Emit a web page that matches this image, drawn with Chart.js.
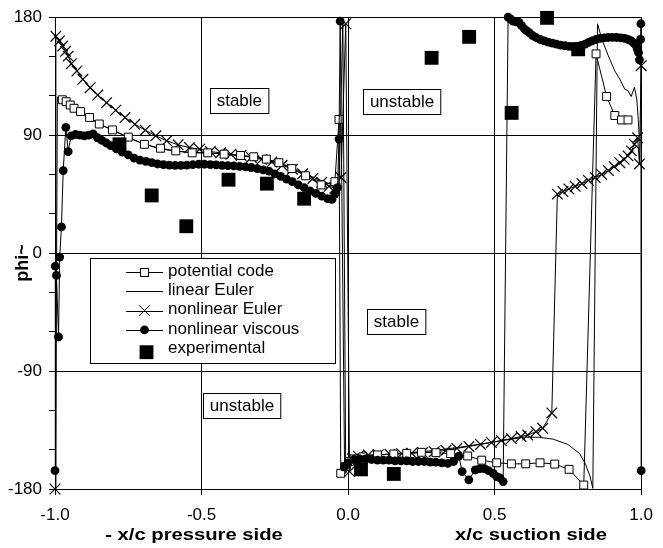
<!DOCTYPE html>
<html><head><meta charset="utf-8">
<script src="https://cdn.jsdelivr.net/npm/chart.js@4.4.1/dist/chart.umd.min.js"></script>
<style>html,body{margin:0;padding:0;background:#fff;}canvas{display:block;}</style>
</head><body>
<canvas id="c" width="663" height="548"></canvas>
<script>
// ---------- data ----------
const xTickValues = [-1.0, -0.5, 0.0, 0.5, 1.0];
const yTickValues = [-180,-150,-120,-90,-60,-30,0,30,60,90,120,150,180];
const yLabelValues = [-180, -90, 0, 90, 180];
const seriesNames = ['potential code','linear Euler','nonlinear Euler','nonlinear viscous','experimental'];

const potentialX = [-0.975,-0.962,-0.948,-0.935,-0.913,-0.882,-0.849,-0.804,-0.75,-0.695,-0.64,-0.588,-0.532,-0.479,-0.423,-0.367,-0.322,-0.279,-0.236,-0.192,-0.145,-0.092,-0.045,-0.031,-0.025,-0.01,0.005,0.02,0.05,0.1,0.156,0.2,0.25,0.3,0.35,0.408,0.456,0.507,0.557,0.606,0.655,0.705,0.754,0.804,0.846,0.882,0.91,0.933,0.955];
const potentialY = [117,115.5,113,110.5,108,103.5,98.5,94,88.5,83,80,78,76.5,76.5,75.5,74.5,73.5,71.7,69,64.5,59,52,54.5,102,-168,-163,-159,-157,-155.5,-154,-153.3,-152.8,-152,-152.3,-153,-154.8,-158,-160,-160.8,-160.8,-160,-161,-165,-177,152,119.5,105,101.6,101.6];

const linearX = [-0.998,-0.992,-0.975,-0.95,-0.92,-0.88,-0.85,-0.8,-0.75,-0.7,-0.65,-0.6,-0.55,-0.5,-0.45,-0.4,-0.35,-0.3,-0.25,-0.2,-0.15,-0.1,-0.06,-0.04,-0.03,-0.018,-0.008,0.005,0.03,0.1,0.2,0.3,0.4,0.5,0.6,0.65,0.7,0.75,0.79,0.81,0.825,0.835,0.851,0.866,0.888,0.91,0.927,0.944,0.955,0.966,0.977,0.985,0.99,0.993];
const linearY = [-175,119,116,112.5,107.5,103,98.5,93.5,88,83.5,80,78,77,76.5,76,75,74,72.5,70,66,61,56,52.5,51,57,178,-168,-158,-156,-154,-152.5,-150.5,-147.5,-144,-140.5,-140.5,-142,-146,-153,-161,-170,-179.5,175,163,150.5,139,132.8,125,124,119.5,126.5,117.5,102,90];

const eulerX = [-1.0,-0.997,-0.985,-0.974,-0.964,-0.955,-0.944,-0.925,-0.905,-0.88,-0.854,-0.824,-0.793,-0.761,-0.728,-0.692,-0.656,-0.619,-0.58,-0.541,-0.507,-0.47,-0.435,-0.4,-0.365,-0.33,-0.295,-0.26,-0.225,-0.19,-0.155,-0.12,-0.09,-0.065,-0.045,-0.024,-0.008,0.005,0.015,0.035,0.069,0.103,0.143,0.183,0.217,0.254,0.294,0.334,0.371,0.412,0.452,0.489,0.523,0.557,0.59,0.613,0.641,0.664,0.695,0.714,0.733,0.753,0.775,0.798,0.82,0.843,0.865,0.888,0.908,0.927,0.942,0.955,0.967,0.977,0.988,0.994,1.0];
const eulerY = [-180,165.5,162,158,154,150.3,144.5,139,132.6,126.2,120.6,114.8,109,103.4,98.3,93.8,89.5,85.7,82.6,80.5,79.3,77.5,76.5,75.5,74.5,73,71.5,69.5,67,64,60.5,57,54,51,49.5,57.7,175,-166.7,-157,-155,-154,-153.8,-153.5,-153,-152.7,-152.2,-151.5,-150.5,-149,-147.5,-146,-144.5,-143,-141.5,-140,-138.8,-136.3,-133.7,-122,45,47,49,51,53,55.5,57.7,60,63,66,69,71.5,74.2,78,83,88,68,143];

const viscousX = [-1.0,-0.999,-0.995,-0.988,-0.984,-0.978,-0.972,-0.963,-0.955,-0.945,-0.93,-0.915,-0.9,-0.885,-0.87,-0.855,-0.84,-0.825,-0.81,-0.79,-0.77,-0.75,-0.73,-0.71,-0.69,-0.67,-0.65,-0.63,-0.61,-0.59,-0.57,-0.55,-0.53,-0.51,-0.49,-0.47,-0.45,-0.43,-0.41,-0.39,-0.37,-0.35,-0.33,-0.31,-0.29,-0.27,-0.25,-0.23,-0.21,-0.19,-0.17,-0.15,-0.13,-0.11,-0.09,-0.07,-0.055,-0.045,-0.036,-0.031,-0.027,-0.012,0.0,0.02,0.04,0.06,0.08,0.1,0.12,0.14,0.16,0.18,0.2,0.22,0.24,0.26,0.28,0.3,0.32,0.34,0.36,0.378,0.389,0.412,0.434,0.45,0.465,0.479,0.495,0.507,0.518,0.529,0.546,0.555,0.563,0.573,0.583,0.592,0.602,0.61,0.619,0.63,0.641,0.655,0.669,0.683,0.697,0.711,0.725,0.74,0.754,0.768,0.782,0.795,0.809,0.82,0.832,0.846,0.86,0.874,0.888,0.902,0.916,0.93,0.944,0.955,0.966,0.975,0.983,0.987,0.991,0.994,0.998,0.999,1.0];
const viscousY = [-166,-10,-17,-64,-3,20,63,96,77.5,89.5,90.5,90,89.5,90,91,88,86,84,82,79.5,77,75,72.5,71,70,69,68,67.5,67.2,67,67,67.2,67.5,67.8,67.8,67.5,67.3,67,66.8,66.5,66.2,65.8,65.3,64.5,63.5,62.5,60.5,58.5,56.5,54.5,52,50,47.5,45.5,43.5,41.5,41,45,50,87,177,-163,-160,-157.5,-157,-157,-157.5,-158,-158,-158,-158.5,-158.5,-158.5,-159,-159,-159,-159.5,-159.5,-160,-160.5,-159,-155,-166.7,-173,-165.4,-164.5,-164.5,-166,-168,-170.5,-171.5,-174.3,180,178.5,177,176.5,176,173.5,171,169.5,168,166,164.5,163,162,161,160.2,159.4,158.7,158.2,157.7,157.6,157.7,158.5,159.4,160.7,162,163,163.8,164.2,164.5,164.6,164.5,164.2,163.8,163,162,160.3,158.2,155.6,153,147.5,163,175,-166];

const expX = [-0.78,-0.67,-0.552,-0.408,-0.277,-0.15,0.044,0.156,0.285,0.413,0.558,0.679,0.785];
const expY = [83,44,20.5,56,53,41.5,-165,-168.5,149,165,107,179.5,155.5];

const regionTexts = ['stable','unstable','stable','unstable'];
const regionX = [-0.371, 0.184, 0.165, -0.362];
const regionY = [116.8, 115.5, -52.4, -116.1];

const xTitleLeft = '- x/c pressure side';
const xTitleRight = 'x/c suction side';
const yTitle = 'phi~';

// ---------- chart ----------
const pts = (xs, ys) => xs.map((x, i) => ({x: x, y: ys[i]}));
const FONT = '"Liberation Sans", Arial, sans-serif';

const textPlugin = {
  id: 'texts',
  beforeDraw(chart) {
    const c = chart.ctx; c.save(); c.fillStyle = '#fff'; c.fillRect(0, 0, chart.width, chart.height); c.restore();
  },
  afterDatasetsDraw(chart) {
    const c = chart.ctx, sx = chart.scales.x, sy = chart.scales.y;
    c.save();
    c.font = '17px ' + FONT;
    c.textAlign = 'center'; c.textBaseline = 'middle';
    regionTexts.forEach((t, i) => {
      const px = sx.getPixelForValue(regionX[i]), py = sy.getPixelForValue(regionY[i]);
      const w = c.measureText(t).width + 13, h = 25;
      const l = Math.round(px - w / 2) + 0.5, tp = Math.round(py - h / 2) + 0.5;
      c.fillStyle = '#fff'; c.fillRect(l, tp, w, h);
      c.strokeStyle = '#000'; c.lineWidth = 1; c.strokeRect(l, tp, w, h);
      c.fillStyle = '#000'; c.fillText(t, px, py + 1);
    });
    c.restore();
  },
  afterDraw(chart) {
    const c = chart.ctx;
    c.save();
    // legend box
    c.fillStyle = '#fff'; c.fillRect(90.5, 258.5, 245, 105);
    c.strokeStyle = '#000'; c.lineWidth = 1; c.strokeRect(90.5, 258.5, 245, 105);
    const ds = chart.data.datasets;
    ds.forEach((d, i) => {
      const y = 272 + i * 19.3;
      const mx = 144.5;
      c.strokeStyle = '#000'; c.fillStyle = '#000'; c.lineWidth = 1;
      if (d.showLine !== false) {
        c.beginPath(); c.moveTo(126, Math.round(y) + 0.5); c.lineTo(163, Math.round(y) + 0.5); c.stroke();
      }
      const r = d.pointRadius;
      if (r > 0) {
        if (d.pointStyle === 'rect') {
          const s = r * Math.SQRT1_2;
          const yy = d.showLine === false ? y + 3 : Math.round(y) + 0.5;
          const xx = d.showLine === false ? mx + 2 : mx;
          c.fillStyle = d.pointBackgroundColor;
          c.fillRect(xx - s, yy - s, 2 * s, 2 * s);
          if (d.pointBorderWidth) c.strokeRect(xx - s, yy - s, 2 * s, 2 * s);
        } else if (d.pointStyle === 'crossRot') {
          const o = r * Math.SQRT1_2;
          c.beginPath(); c.moveTo(mx - o, y - o); c.lineTo(mx + o, y + o);
          c.moveTo(mx - o, y + o); c.lineTo(mx + o, y - o); c.stroke();
        } else {
          c.beginPath(); c.arc(mx, y, r, 0, Math.PI * 2); c.fill();
        }
      }
      c.fillStyle = '#000';
      c.font = '17px ' + FONT; c.textAlign = 'left'; c.textBaseline = 'middle';
      c.fillText(d.label, 168, y - 1);
    });
    // axis titles
    c.fillStyle = '#000';
    c.font = 'bold 17px ' + FONT;
    c.textAlign = 'center'; c.textBaseline = 'alphabetic';
    [[xTitleLeft, 194], [xTitleRight, 531]].forEach(([t, cx]) => {
      c.save(); c.translate(cx, 540); c.scale(1.19, 1); c.fillText(t, 0, 0); c.restore();
    });
    c.font = 'bold 18px ' + FONT;
    c.save(); c.translate(28, 263); c.rotate(-Math.PI / 2);
    c.textBaseline = 'alphabetic'; c.fillText(yTitle, 0, 0); c.restore();
    c.restore();
  }
};

new Chart(document.getElementById('c'), {
  type: 'scatter',
  data: {
    datasets: [
      { label: seriesNames[0], order: 2, data: pts(potentialX, potentialY), showLine: true, borderColor: '#000', borderWidth: 1,
        pointStyle: 'rect', pointRadius: 5.6, pointBackgroundColor: '#fff', pointBorderColor: '#000', pointBorderWidth: 1, clip: false },
      { label: seriesNames[1], order: 4, data: pts(linearX, linearY), showLine: true, borderColor: '#000', borderWidth: 1,
        pointRadius: 0, clip: false },
      { label: seriesNames[2], order: 3, data: pts(eulerX, eulerY), showLine: true, borderColor: '#000', borderWidth: 1,
        pointStyle: 'crossRot', pointRadius: 7.5, pointBorderColor: '#000', pointBorderWidth: 1.2, clip: false },
      { label: seriesNames[3], order: 1, data: pts(viscousX, viscousY), showLine: true, borderColor: '#000', borderWidth: 1,
        pointStyle: 'circle', pointRadius: 4.4, pointBackgroundColor: '#000', pointBorderColor: '#000', pointBorderWidth: 0, clip: false },
      { label: seriesNames[4], order: 0, data: pts(expX, expY), showLine: false, pointStyle: 'rect', pointRadius: 9.8,
        pointBackgroundColor: '#000', pointBorderColor: '#000', pointBorderWidth: 0, clip: false }
    ]
  },
  options: {
    responsive: false, animation: false, devicePixelRatio: 1,
    layout: { padding: { left: 0, top: 16, right: 13, bottom: 0 } },
    plugins: { legend: { display: false }, tooltip: { enabled: false } },
    elements: { line: { tension: 0 } },
    scales: {
      x: {
        type: 'linear', min: -1, max: 1,
        afterBuildTicks: s => { s.ticks = xTickValues.map(v => ({ value: v })); },
        afterFit: s => { s.height = 59; },
        ticks: { color: '#000', font: { family: FONT, size: 17 }, padding: 10, maxRotation: 0,
                 callback: v => Number(v).toFixed(1) },
        grid: { color: '#000', lineWidth: 1, tickLength: 6, tickColor: '#000' },
        border: { display: true, color: '#000', width: 1 }
      },
      y: {
        type: 'linear', min: -180, max: 180,
        afterBuildTicks: s => { s.ticks = yTickValues.map(v => ({ value: v })); },
        afterFit: s => { s.width = 55; },
        ticks: { color: '#000', font: { family: FONT, size: 17 }, padding: 7, autoSkip: false,
                 callback: v => yLabelValues.includes(v) ? String(v) : '' },
        grid: { color: ctx => (ctx.tick && yLabelValues.includes(ctx.tick.value)) ? '#000' : 'rgba(0,0,0,0)',
                lineWidth: 1, tickLength: 6, tickColor: '#000' },
        border: { display: true, color: '#000', width: 1 }
      }
    }
  },
  plugins: [textPlugin]
});
</script>
</body></html>
